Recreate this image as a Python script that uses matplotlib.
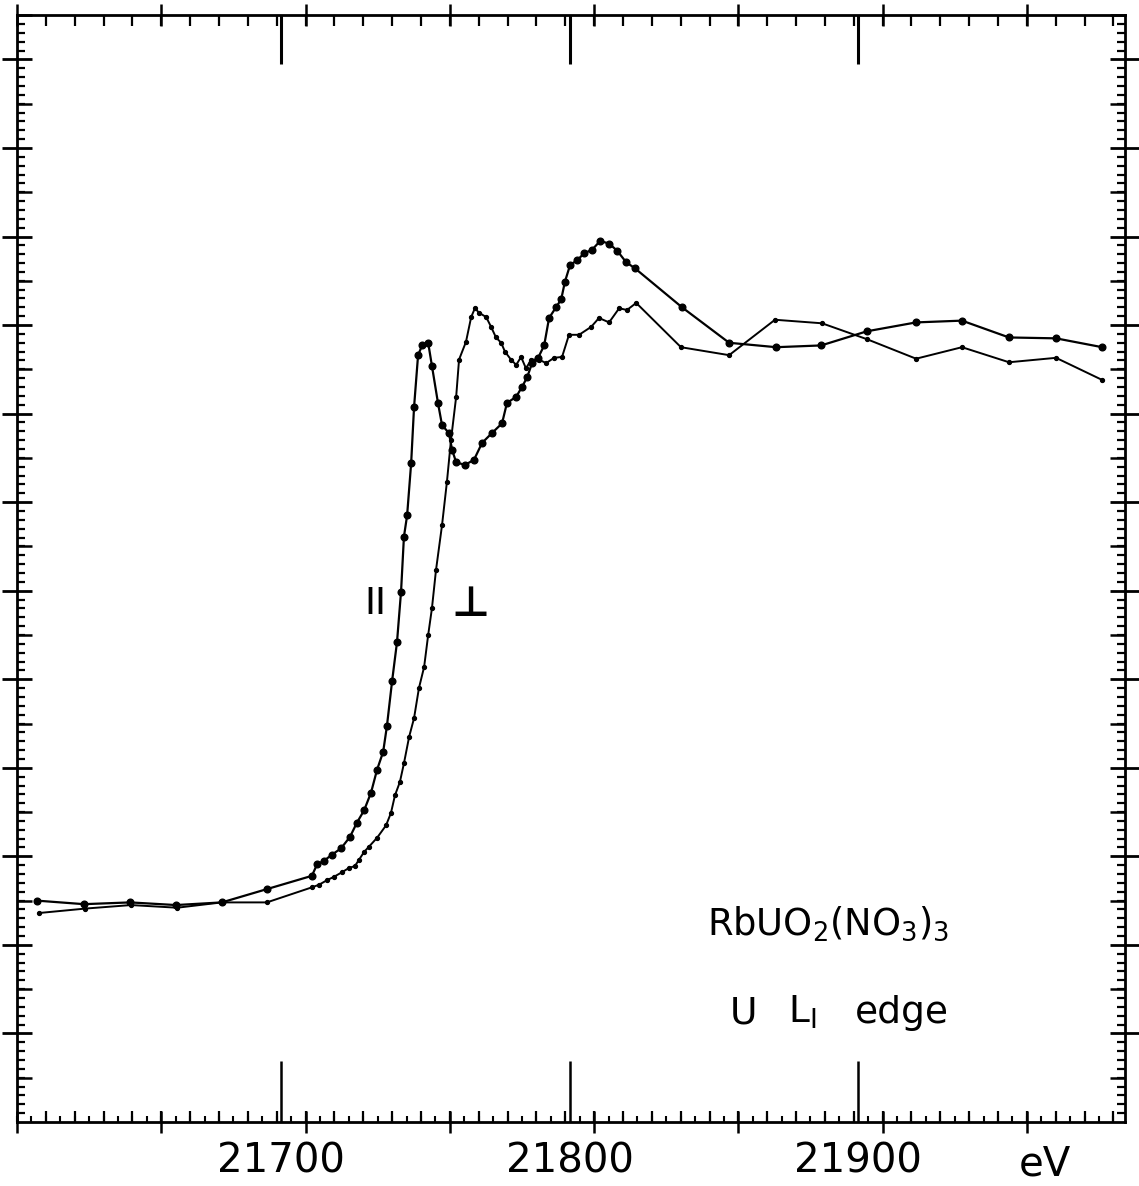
import matplotlib
matplotlib.use("Agg")
import matplotlib.pyplot as plt
import numpy as np
from matplotlib.ticker import FixedLocator, NullFormatter, FixedFormatter

# ---------------- data ----------------
energy_par = [21615.4, 21631.7, 21647.7, 21663.6, 21679.5, 21695.1, 21710.7, 21712.5,
              21714.9, 21717.7, 21720.8, 21723.9, 21726.3, 21728.8, 21731.2, 21733.3,
              21735.4, 21736.7, 21738.5, 21740.2, 21741.6, 21742.6, 21743.7, 21745.1,
              21746.1, 21747.5, 21748.9, 21751.0, 21752.3, 21754.4, 21755.8, 21758.2,
              21759.3, 21760.7, 21763.8, 21766.9, 21769.7, 21773.1, 21776.6, 21778.3,
              21781.5, 21783.5, 21785.3, 21787.0, 21789.1, 21791.2, 21792.9, 21795.3,
              21797.1, 21798.4, 21800.2, 21802.6, 21805.0, 21807.8, 21810.6, 21813.7,
              21816.5, 21819.6, 21822.7, 21839.0, 21855.3, 21871.6, 21887.2, 21903.1,
              21920.1, 21936.0, 21952.3, 21968.6, 21984.6]
mu_par = [2.50, 2.46, 2.48, 2.45, 2.48, 2.63, 2.78, 2.91,
          2.95, 3.02, 3.09, 3.22, 3.38, 3.52, 3.72, 3.98,
          4.18, 4.47, 4.98, 5.42, 5.99, 6.61, 6.85, 7.44,
          8.07, 8.66, 8.77, 8.80, 8.54, 8.12, 7.87, 7.78,
          7.59, 7.45, 7.42, 7.48, 7.67, 7.78, 7.89, 8.12,
          8.19, 8.30, 8.41, 8.57, 8.63, 8.77, 9.08, 9.20,
          9.29, 9.49, 9.68, 9.73, 9.81, 9.85, 9.95, 9.92,
          9.84, 9.71, 9.64, 9.20, 8.80, 8.75, 8.77, 8.93,
          9.03, 9.05, 8.86, 8.85, 8.75]

energy_perp = [21616.1, 21632.1, 21648.0, 21664.0, 21679.5, 21695.1, 21710.7, 21713.2,
               21715.9, 21718.4, 21721.1, 21723.6, 21725.6, 21727.0, 21728.8, 21730.5,
               21733.3, 21736.4, 21738.1, 21739.5, 21741.2, 21742.6, 21744.4, 21746.1,
               21747.8, 21749.6, 21751.0, 21752.3, 21753.7, 21755.8, 21757.5, 21758.9,
               21760.7, 21761.7, 21764.1, 21765.9, 21767.2, 21768.6, 21771.1, 21772.8,
               21774.5, 21776.3, 21777.6, 21779.7, 21781.5, 21783.2, 21784.9, 21786.7,
               21789.4, 21791.9, 21794.6, 21797.4, 21799.8, 21803.3, 21807.5, 21810.2,
               21813.7, 21817.2, 21819.9, 21823.1, 21838.6, 21855.3, 21871.2, 21887.5,
               21903.1, 21920.1, 21936.0, 21952.3, 21968.6, 21984.6]
mu_perp = [2.36, 2.41, 2.45, 2.42, 2.48, 2.48, 2.65, 2.68,
           2.73, 2.77, 2.82, 2.87, 2.89, 2.96, 3.05, 3.11,
           3.21, 3.35, 3.49, 3.69, 3.84, 4.05, 4.35, 4.56,
           4.90, 5.14, 5.50, 5.80, 6.23, 6.74, 7.23, 7.70,
           8.19, 8.61, 8.81, 9.09, 9.19, 9.14, 9.09, 8.98,
           8.86, 8.80, 8.70, 8.61, 8.55, 8.64, 8.51, 8.61,
           8.61, 8.57, 8.63, 8.64, 8.89, 8.89, 8.98, 9.08,
           9.03, 9.19, 9.17, 9.25, 8.75, 8.66, 9.06, 9.02,
           8.84, 8.62, 8.75, 8.58, 8.63, 8.38]

xtick_values = [21700, 21800, 21900]
xtick_labels = ["21700", "21800", "21900"]
unit_label = "eV"
compound_label = r"RbUO$_2$(NO$_3$)$_3$"
edge_parts = ["U", r"L$_{\mathregular{I}}$", "edge"]
par_label = "II"
perp_label = "\u22A5"

# ---------------- figure ----------------
plt.rcParams["font.family"] = ["DejaVu Sans"]
W, H = 1139, 1186
fig = plt.figure(figsize=(W / 100, H / 100), dpi=100)
fig.patch.set_facecolor("white")
ax = fig.add_axes([17 / W, 64 / H, 1108 / W, 1107.3 / H])
x0, x1 = 21608.5, 21992.5
ax.set_xlim(x0, x1)
ax.set_ylim(0, 12.505)

ax.plot(energy_par, mu_par, color="black", lw=1.6, marker="o", ms=4.8,
        mfc="black", mec="black", zorder=3)
ax.plot(energy_perp, mu_perp, color="black", lw=1.4, marker="o", ms=2.8,
        mfc="black", mec="black", zorder=3)

for s in ax.spines.values():
    s.set_linewidth(2.0)

# frame tick grids
grid5 = np.arange(x0, x1 + 0.01, 5.0)
grid10 = np.arange(x0 + 10, x1 + 0.01, 10.0)
grid50 = np.arange(x0, x1 + 0.01, 50.0)

# bottom: labelled long ticks (inward) + 5 eV small ticks
ax.xaxis.set_major_locator(FixedLocator(xtick_values))
ax.xaxis.set_major_formatter(FixedFormatter(xtick_labels))
ax.xaxis.set_minor_locator(FixedLocator(grid5))
ax.xaxis.set_minor_formatter(NullFormatter())
ax.tick_params(axis="x", which="major", direction="in", length=44, width=1.8,
               labelsize=29, pad=14, top=False)
ax.tick_params(axis="x", which="minor", direction="in", length=4, width=1.5, top=False)

sb = ax.secondary_xaxis("bottom")
sb.xaxis.remove_overlapping_locs = False
sb.xaxis.set_major_locator(FixedLocator(grid10))
sb.xaxis.set_minor_locator(FixedLocator(grid50))
sb.xaxis.set_major_formatter(NullFormatter())
sb.xaxis.set_minor_formatter(NullFormatter())
sb.tick_params(axis="x", which="major", direction="in", length=8, width=1.6)
sb.tick_params(axis="x", which="minor", direction="inout", length=16, width=1.8)
for s in sb.spines.values():
    s.set_visible(False)

# top ticks
st = ax.secondary_xaxis("top")
st.xaxis.remove_overlapping_locs = False
st.xaxis.set_major_locator(FixedLocator(xtick_values))
st.xaxis.set_minor_locator(FixedLocator(grid10))
st.xaxis.set_major_formatter(NullFormatter())
st.xaxis.set_minor_formatter(NullFormatter())
st.tick_params(axis="x", which="major", direction="in", length=35, width=2.2)
st.tick_params(axis="x", which="minor", direction="in", length=8, width=1.6)
for s in st.spines.values():
    s.set_visible(False)

st2 = ax.secondary_xaxis("top")
st2.xaxis.set_major_locator(FixedLocator(grid50))
st2.xaxis.set_major_formatter(NullFormatter())
st2.xaxis.set_minor_locator(FixedLocator([]))
st2.tick_params(axis="x", which="major", direction="inout", length=16, width=1.8)
for s in st2.spines.values():
    s.set_visible(False)

# y ticks (both sides)
ymaj = np.arange(1, 13, 1.0)
ymid = np.arange(0.5, 12.6, 1.0)
ymin = np.arange(0.1, 12.5, 0.1)
ax.yaxis.set_major_locator(FixedLocator(ymaj))
ax.yaxis.set_minor_locator(FixedLocator(ymin))
ax.yaxis.set_major_formatter(NullFormatter())
ax.yaxis.set_minor_formatter(NullFormatter())
ax.tick_params(axis="y", which="major", direction="inout", length=22, width=2.0,
               left=True, right=True)
ax.tick_params(axis="y", which="minor", direction="in", length=6, width=1.6,
               left=True, right=True)
for side in ("left", "right"):
    sy = ax.secondary_yaxis(side)
    sy.yaxis.set_major_locator(FixedLocator(ymid))
    sy.yaxis.set_major_formatter(NullFormatter())
    sy.yaxis.set_minor_locator(FixedLocator([]))
    sy.tick_params(axis="y", which="major", direction="in", length=11, width=1.8)
    for s in sy.spines.values():
        s.set_visible(False)

# annotations
ax.text(0.3231, 0.4678, par_label, transform=ax.transAxes, fontsize=27,
        ha="center", va="center")
ax.text(0.4088, 0.4678, perp_label, transform=ax.transAxes, fontsize=30,
        fontweight="bold", ha="center", va="center")
ax.text(0.6227, 0.1689, compound_label, transform=ax.transAxes, fontsize=26.5,
        ha="left", va="baseline")
for part, xf in zip(edge_parts, [0.6435, 0.6958, 0.7565]):
    ax.text(xf, 0.0894, part, transform=ax.transAxes, fontsize=27,
            ha="left", va="baseline")
fig.text(1045 / W, 1 - 1175 / H, unit_label, fontsize=29, ha="center", va="baseline")

fig.savefig("out.png", dpi=100, facecolor="white")
